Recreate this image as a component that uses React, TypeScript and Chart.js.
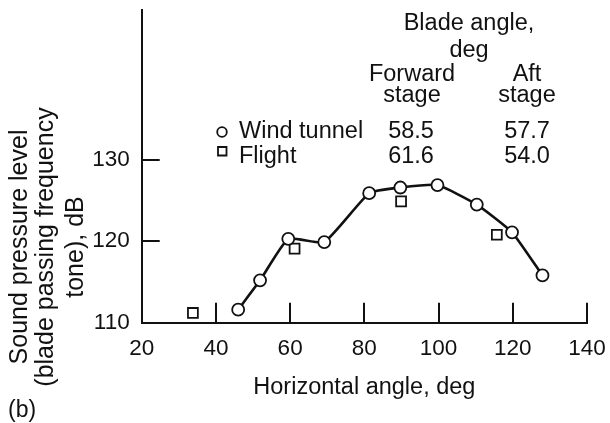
import React, { useEffect, useRef } from 'react';
import { Chart, registerables } from 'chart.js';

Chart.register(...registerables);

// ---- data ----
const windTunnelAngle = [46.0, 51.9, 59.5, 69.2, 81.3, 89.7, 99.7, 110.3, 119.8, 128.0];
const windTunnelSPL = [111.6, 115.2, 120.3, 119.9, 125.9, 126.6, 126.9, 124.5, 121.1, 115.8];
const flightAngle = [33.8, 61.2, 89.9, 115.7];
const flightSPL = [111.2, 119.1, 124.9, 120.8];

const xTickValues = [20, 40, 60, 80, 100, 120, 140];
const yTickValues = [110, 120, 130];

const xAxisTitle = 'Horizontal angle, deg';
const yAxisTitleLines = ['Sound pressure level', '(blade passing frequency', 'tone), dB'];
const tableHeading = ['Blade angle,', 'deg'];
const forwardStageHeading = ['Forward', 'stage'];
const aftStageHeading = ['Aft', 'stage'];
const seriesNames = ['Wind tunnel', 'Flight'];
const forwardStageAngles = ['58.5', '61.6'];
const aftStageAngles = ['57.7', '54.0'];
const panelLabel = '(b)';

const FONT = "'Liberation Sans', Arial, Helvetica, sans-serif";
const INK = '#111111';

const overlayPlugin = {
  id: 'overlay',
  afterDraw(chart: any) {
    const ctx = chart.ctx as CanvasRenderingContext2D;
    const xs = chart.scales.x;
    const ys = chart.scales.y;
    const area = chart.chartArea;
    ctx.save();
    ctx.strokeStyle = INK;
    ctx.fillStyle = INK;

    // inward tick marks
    ctx.lineWidth = 2;
    ctx.beginPath();
    xTickValues.slice(1).forEach((v) => {
      const px = Math.round(xs.getPixelForValue(v));
      ctx.moveTo(px, area.bottom);
      ctx.lineTo(px, area.bottom - 20);
    });
    yTickValues.slice(1).forEach((v) => {
      const py = Math.round(ys.getPixelForValue(v));
      ctx.moveTo(area.left, py);
      ctx.lineTo(area.left + 18, py);
    });
    ctx.stroke();

    // y axis title (rotated, three lines)
    ctx.font = `25px ${FONT}`;
    ctx.textAlign = 'center';
    ctx.textBaseline = 'alphabetic';
    const baselines = [27, 53, 83];
    yAxisTitleLines.forEach((line, i) => {
      ctx.save();
      ctx.translate(baselines[i], 247);
      ctx.rotate(-Math.PI / 2);
      ctx.fillText(line, 0, 0);
      ctx.restore();
    });

    // table heading
    ctx.font = `23.5px ${FONT}`;
    ctx.textAlign = 'center';
    ctx.fillText(tableHeading[0], 469, 30);
    ctx.fillText(tableHeading[1], 469, 57);
    ctx.fillText(forwardStageHeading[0], 412, 81);
    ctx.fillText(forwardStageHeading[1], 412, 102);
    ctx.fillText(aftStageHeading[0], 527, 81);
    ctx.fillText(aftStageHeading[1], 527, 102);

    const rowBase = [138, 163];
    seriesNames.forEach((name, i) => {
      ctx.textAlign = 'left';
      ctx.fillText(name, 239, rowBase[i]);
      ctx.textAlign = 'center';
      ctx.fillText(forwardStageAngles[i], 411, rowBase[i]);
      ctx.fillText(aftStageAngles[i], 527, rowBase[i]);
    });

    // legend markers
    ctx.lineWidth = 1.8;
    ctx.fillStyle = '#ffffff';
    ctx.beginPath();
    ctx.arc(222, 132, 4.8, 0, Math.PI * 2);
    ctx.fill();
    ctx.stroke();
    ctx.beginPath();
    ctx.rect(218, 147, 8.5, 8.5);
    ctx.fill();
    ctx.stroke();

    // panel label
    ctx.fillStyle = INK;
    ctx.font = `23px ${FONT}`;
    ctx.textAlign = 'left';
    ctx.fillText(panelLabel, 8, 417);

    ctx.restore();
  },
};

export default function App() {
  const canvasRef = useRef<HTMLCanvasElement | null>(null);

  useEffect(() => {
    const canvas = canvasRef.current;
    if (!canvas) return;
    const chart = new Chart(canvas, {
      type: 'scatter',
      data: {
        datasets: [
          {
            label: seriesNames[0],
            data: windTunnelAngle.map((x, i) => ({ x, y: windTunnelSPL[i] })),
            showLine: true,
            tension: 0.15,
            borderColor: INK,
            borderWidth: 2.6,
            pointStyle: 'circle',
            pointRadius: 6,
            pointBorderWidth: 1.8,
            pointBackgroundColor: '#ffffff',
            pointBorderColor: INK,
          },
          {
            label: seriesNames[1],
            data: flightAngle.map((x, i) => ({ x, y: flightSPL[i] })),
            showLine: false,
            pointStyle: 'rect',
            pointRadius: 7,
            pointBorderWidth: 1.8,
            pointBackgroundColor: '#ffffff',
            pointBorderColor: INK,
          },
        ],
      },
      options: {
        responsive: false,
        animation: false,
        devicePixelRatio: 1,
        layout: { padding: { left: 0, top: 10, right: 23, bottom: 0 } },
        plugins: { legend: { display: false }, tooltip: { enabled: false } },
        scales: {
          x: {
            type: 'linear',
            min: 20,
            max: 140,
            grid: { display: false, drawTicks: false },
            border: { display: true, color: INK, width: 2 },
            ticks: {
              stepSize: 20,
              padding: 13,
              color: INK,
              font: { family: FONT, size: 22.5 },
            },
            afterBuildTicks: (scale: any) => {
              scale.ticks = xTickValues.map((v) => ({ value: v }));
            },
            title: {
              display: true,
              text: xAxisTitle,
              color: INK,
              font: { family: FONT, size: 23.5 },
              padding: { top: 0, bottom: 21 },
            },
            afterFit: (scale: any) => {
              scale.height = 100.3;
              scale.paddingLeft = 0;
              scale.paddingRight = 0;
            },
          },
          y: {
            type: 'linear',
            min: 110,
            max: 148.4,
            grid: { display: false, drawTicks: false },
            border: { display: true, color: INK, width: 2 },
            ticks: {
              padding: 12,
              color: INK,
              font: { family: FONT, size: 22.5 },
            },
            afterBuildTicks: (scale: any) => {
              scale.ticks = yTickValues.map((v) => ({ value: v }));
            },
            afterFit: (scale: any) => {
              scale.width = 141.7;
              scale.paddingTop = 0;
              scale.paddingBottom = 0;
            },
          },
        },
      },
      plugins: [overlayPlugin],
    });
    return () => chart.destroy();
  }, []);

  return (
    <div style={{ position: 'fixed', left: 0, top: 0, width: 610, height: 423, background: '#ffffff' }}>
      <canvas ref={canvasRef} width={610} height={423} style={{ display: 'block' }} />
    </div>
  );
}
